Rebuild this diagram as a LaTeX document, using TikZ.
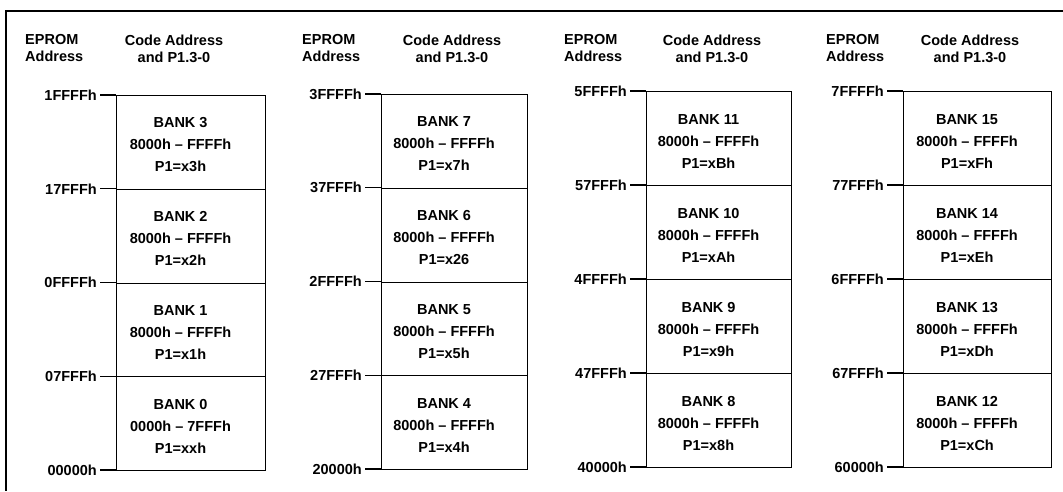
\documentclass[tikz,border=0pt]{standalone}
\usepackage{fontspec}
\setmainfont{Liberation Sans}
\usetikzlibrary{positioning}
\tikzset{
  banca/.style     = {draw, line width=1.1pt, inner sep=0pt, anchor=north west},
  textbanca/.style = {align=center, inner sep=0pt,
                      font=\fontsize{14.5}{22}\selectfont\bfseries},
  antet/.style     = {inner sep=0pt, font=\fontsize{14.5}{17}\selectfont\bfseries},
  adresa/.style    = {anchor=east, inner sep=3pt,
                      font=\fontsize{14.5}{17}\selectfont\bfseries},
  liniuta/.style   = {line width=1.1pt}
}

\begin{document}
\begin{tikzpicture}[x=1pt, y=-1pt]
		\useasboundingbox (0,0) rectangle (1063,491);
		\draw[line width=1.8pt] (1063,11) -- (6,11) -- (6,491);

		% coloana: stanga/dreapta/sus/jos/antet EPROM/antet cod/adrese/P1
		\foreach \col/\st/\dr/\sus/\jos/\ep/\cod/\adr/\pp in {
			0/116/265/95/470/25/174/{1FFFFh,17FFFh,0FFFFh,07FFFh,00000h}/{x3h,x2h,x1h,xxh},
			1/381/527/94/469/302/452/{3FFFFh,37FFFh,2FFFFh,27FFFh,20000h}/{x7h,x26,x5h,x4h},
			2/646/791/91/467/564/712/{5FFFFh,57FFFh,4FFFFh,47FFFh,40000h}/{xBh,xAh,x9h,x8h},
			3/903/1051/91/467/826/970/{7FFFFh,77FFFh,6FFFFh,67FFFh,60000h}/{xFh,xEh,xDh,xCh}}
		{
			\pgfmathsetmacro\h{(\jos-\sus)/4}
			\pgfmathsetlengthmacro\lat{\dr-\st}
			\pgfmathsetlengthmacro\inalt{(\jos-\sus)/4}
			\node[antet, anchor=west, align=left] (e\col) at (\ep,48.5) {EPROM\\Address};
			\node[antet, align=center] (c\col) at (\cod,48.5) {Code Address\\and P1.3-0};
			\foreach \p [count=\r from 0] in \pp {
				\pgfmathtruncatemacro\nr{4*\col+3-\r}
				\node[banca, minimum width=\lat, minimum height=\inalt] (b\nr) at (\st,{\sus+\r*\h}) {};
				\node[textbanca] (t\nr) at ([xshift=-10.5pt, yshift=-2.5pt]b\nr.center)
					{BANK \nr\\\ifnum\nr=0 0000h – 7FFFh\else 8000h – FFFFh\fi\\P1=\p};
			}
			\foreach \a [count=\r from 0] in \adr {
				\coordinate (p\col-\r) at (\st,{\sus+\r*\h});
				\node[adresa] (a\col-\r) at ([xshift=-16pt]p\col-\r) {\a};
				\draw[liniuta] (a\col-\r) -- (p\col-\r);
			}
		}
	\end{tikzpicture}
\end{document}
